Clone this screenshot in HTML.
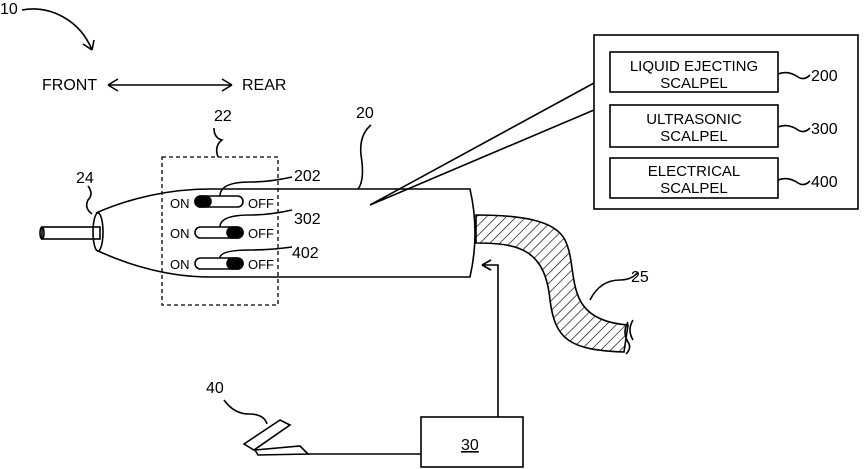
<html><body style="margin:0;background:#fff">
<svg width="868" height="469" xmlns="http://www.w3.org/2000/svg" font-family="Liberation Sans, sans-serif" font-size="15" fill="none" stroke="#000" stroke-width="1.6">
<defs><pattern id="h" width="7" height="7" patternUnits="userSpaceOnUse" patternTransform="rotate(45)"><line x1="0" y1="0" x2="0" y2="7" stroke="#000" stroke-width="1.3"/></pattern></defs>
<path d="M22 10 C50 5 80 20 92 50 M92 50 l-9 -6 M92 50 l2 -10"/>
<path d="M108 85 H232 M108 85 l10 -6 M108 85 l10 6 M232 85 l-10 -6 M232 85 l-10 6"/>
<path d="M214 128 q0 10 8 12 q-8 6 -4 17"/>
<rect x="162" y="157" width="116" height="148" stroke-dasharray="4 3" stroke-width="1.3"/>
<path d="M96 213 C130 198 170 189 210 189 H470 Q480 233 470 277 H210 C170 277 130 266 96 250"/>
<ellipse cx="98" cy="232" rx="5" ry="19"/>
<rect x="42" y="227" width="58" height="12"/><ellipse cx="42" cy="233" rx="2" ry="6"/>
<path d="M88 186 q6 8 0 14 q-4 8 4 14"/>
<path d="M371 125 q-12 10 -10 30 q4 25 -3 34"/>
<path d="M370 205 L594 83 M370 205 L594 110"/>
<path d="M220 196 q0 -14 30 -14 q20 0 42 -5"/>
<path d="M220 227 q0 -12 30 -12 q20 0 42 -5"/>
<path d="M220 258 q0 -8 30 -8 q20 0 42 -3"/>
<rect x="195" y="196" width="48" height="11" rx="5.5" fill="#fff"/><rect x="195" y="196" width="16" height="11" rx="5.5" fill="#000"/>
<rect x="195" y="227" width="48" height="11" rx="5.5" fill="#fff"/><rect x="227" y="227" width="16" height="11" rx="5.5" fill="#000"/>
<rect x="195" y="258" width="48" height="11" rx="5.5" fill="#fff"/><rect x="227" y="258" width="16" height="11" rx="5.5" fill="#000"/>
<rect x="594" y="35" width="264" height="174" fill="#fff"/>
<rect x="610" y="52" width="168" height="40"/>
<rect x="610" y="105" width="168" height="42"/>
<rect x="610" y="158" width="168" height="40"/>
<path d="M778 74 q10 -4 20 3 q6 4 12 -2 M778 127 q10 -4 20 3 q6 4 12 -2 M778 180 q10 -4 20 3 q6 4 12 -2"/>
<path d="M476 215 C520 215 555 220 565 240 C580 270 560 320 628 325 L624 352 C570 350 555 340 550 300 C545 250 520 243 476 243 Z" fill="url(#h)"/>
<path d="M628 322 q-6 10 0 20 q4 6 -2 12 M633 320 q-6 10 0 20"/>
<path d="M590 300 q10 -20 30 -20 q12 0 18 -8"/>
<path d="M498 417 V265 H482 M482 265 l9 -5 M482 265 l9 5"/>
<rect x="421" y="417" width="102" height="50"/>
<path d="M308 454 H421"/>
<path d="M244 444 L280 420 L290 425 L254 450 Z M255 450 L300 446 L308 454 L258 455 Z"/>
<path d="M224 400 q10 14 25 14 q15 0 18 10"/>
<g fill="#000" stroke="none" font-size="16">
<text x="0" y="14">10</text>
<text x="42" y="90">FRONT</text>
<text x="242" y="90">REAR</text>
<text x="214" y="121">22</text>
<text x="356" y="118">20</text>
<text x="76" y="183">24</text>
<text x="294" y="181">202</text>
<text x="294" y="224">302</text>
<text x="292" y="258">402</text>
<text x="631" y="282">25</text>
<text x="206" y="393">40</text>
<text x="461" y="450" text-decoration="underline">30</text>
<text x="811" y="81">200</text>
<text x="811" y="134">300</text>
<text x="811" y="187">400</text>
<g font-size="15" text-anchor="middle">
<text x="694" y="71">LIQUID EJECTING</text><text x="694" y="88">SCALPEL</text>
<text x="694" y="124">ULTRASONIC</text><text x="694" y="141">SCALPEL</text>
<text x="694" y="176">ELECTRICAL</text><text x="694" y="193">SCALPEL</text>
</g>
<g font-size="13"><text x="170" y="208">ON</text><text x="248" y="208">OFF</text>
<text x="170" y="238">ON</text><text x="248" y="238">OFF</text>
<text x="170" y="269">ON</text><text x="248" y="269">OFF</text></g>
</g>
</svg>
</body></html>
